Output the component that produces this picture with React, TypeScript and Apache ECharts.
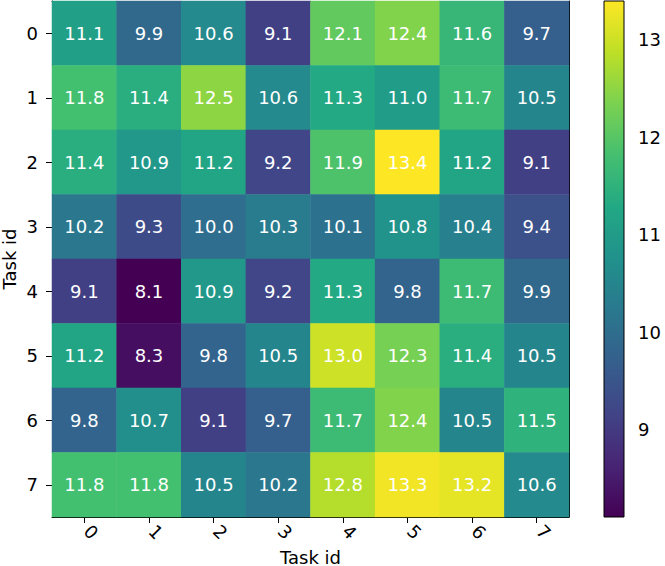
import React, { useEffect, useRef } from "react";
import * as echarts from "echarts";

const xCategories = ["0", "1", "2", "3", "4", "5", "6", "7"];
const yCategories = ["0", "1", "2", "3", "4", "5", "6", "7"];
const row0 = [11.1, 9.9, 10.6, 9.1, 12.1, 12.4, 11.6, 9.7];
const row1 = [11.8, 11.4, 12.5, 10.6, 11.3, 11.0, 11.7, 10.5];
const row2 = [11.4, 10.9, 11.2, 9.2, 11.9, 13.4, 11.2, 9.1];
const row3 = [10.2, 9.3, 10.0, 10.3, 10.1, 10.8, 10.4, 9.4];
const row4 = [9.1, 8.1, 10.9, 9.2, 11.3, 9.8, 11.7, 9.9];
const row5 = [11.2, 8.3, 9.8, 10.5, 13.0, 12.3, 11.4, 10.5];
const row6 = [9.8, 10.7, 9.1, 9.7, 11.7, 12.4, 10.5, 11.5];
const row7 = [11.8, 11.8, 10.5, 10.2, 12.8, 13.3, 13.2, 10.6];
const rows = [row0, row1, row2, row3, row4, row5, row6, row7];
const colorbarTicks = [9, 10, 11, 12, 13];
const vMin = 8.1;
const vMax = 13.4;

const viridis = [
  "#440154", "#482475", "#414487", "#355f8d", "#2a788e",
  "#21918c", "#22a884", "#44bf70", "#7ad151", "#bddf26", "#fde725",
];

const FONT = "DejaVu Sans";

export default function App() {
  const ref = useRef<HTMLDivElement>(null);
  useEffect(() => {
    document.body.style.margin = "0";
    const chart = echarts.init(ref.current!, null, { renderer: "svg" });
    const data: [number, number, number][] = [];
    rows.forEach((r, yi) => r.forEach((v, xi) => data.push([xi, yi, v])));
    const gridMain = { left: 52, top: 1, width: 517, height: 516, outerBoundsMode: "none", containLabel: false };
    const gridBar = { left: 604, top: 1, width: 20, height: 516, outerBoundsMode: "none", containLabel: false };
    const axisText = { color: "#000", fontFamily: FONT, fontSize: 18 };
    chart.setOption({
      animation: false,
      backgroundColor: "#fff",
      textStyle: { fontFamily: FONT },
      grid: [gridMain, gridBar],
      xAxis: [
        {
          type: "category",
          data: xCategories,
          gridIndex: 0,
          position: "bottom",
          name: "Task id",
          nameLocation: "middle",
          nameGap: 31,
          nameMoveOverlap: false,
          nameTextStyle: axisText,
          axisLine: { show: true, lineStyle: { color: "#000", width: 1 } },
          axisTick: { show: true, alignWithLabel: true, length: 6, lineStyle: { color: "#000" } },
          axisLabel: { ...axisText, rotate: -45, margin: 8, padding: [0, 0, 8, 4] },
          splitLine: { show: false },
        },
        {
          type: "category",
          data: xCategories,
          gridIndex: 0,
          position: "top",
          axisLine: { show: true, onZero: false, lineStyle: { color: "#000", width: 1 } },
          axisTick: { show: false },
          axisLabel: { show: false },
        },
        {
          type: "value",
          gridIndex: 1,
          show: false,
          min: 0,
          max: 1,
        },
      ],
      yAxis: [
        {
          type: "category",
          data: yCategories,
          inverse: true,
          gridIndex: 0,
          position: "left",
          name: "Task id",
          nameLocation: "middle",
          nameGap: 34,
          nameMoveOverlap: false,
          nameTextStyle: axisText,
          axisLine: { show: true, lineStyle: { color: "#000", width: 1 } },
          axisTick: { show: true, alignWithLabel: true, length: 6, lineStyle: { color: "#000" } },
          axisLabel: { ...axisText, margin: 14 },
          splitLine: { show: false },
        },
        {
          type: "category",
          data: yCategories,
          inverse: true,
          gridIndex: 0,
          position: "right",
          axisLine: { show: true, onZero: false, lineStyle: { color: "#000", width: 1 } },
          axisTick: { show: false },
          axisLabel: { show: false },
        },
        {
          type: "value",
          gridIndex: 1,
          position: "right",
          min: vMin,
          max: vMax,
          axisLine: { show: false },
          axisTick: { show: true, length: 6, lineStyle: { color: "#000" }, customValues: colorbarTicks },
          axisLabel: {
            ...axisText,
            margin: 14,
            customValues: colorbarTicks,
            formatter: (v: number) => String(v),
          },
          splitLine: { show: false },
        },
      ],
      visualMap: {
        type: "continuous",
        show: false,
        min: vMin,
        max: vMax,
        dimension: 2,
        seriesIndex: 0,
        inRange: { color: viridis },
      },
      graphic: [
        {
          type: "rect",
          shape: { x: gridBar.left, y: gridBar.top, width: gridBar.width, height: gridBar.height },
          style: {
            fill: new echarts.graphic.LinearGradient(
              0, 1, 0, 0,
              viridis.map((c, i) => ({ offset: i / (viridis.length - 1), color: c }))
            ),
            stroke: "#000",
            lineWidth: 1,
          },
          z: 10,
        },
      ],
      series: [
        {
          type: "heatmap",
          xAxisIndex: 0,
          yAxisIndex: 0,
          data,
          label: {
            show: true,
            color: "#fff",
            fontFamily: FONT,
            fontSize: 18,
            formatter: (p: any) => p.value[2].toFixed(1),
          },
          itemStyle: { borderWidth: 0 },
          emphasis: { disabled: true },
        },
      ],
    });
    return () => chart.dispose();
  }, []);
  return (
    <div
      ref={ref}
      style={{ position: "fixed", left: 0, top: 0, width: 665, height: 566 }}
    />
  );
}
